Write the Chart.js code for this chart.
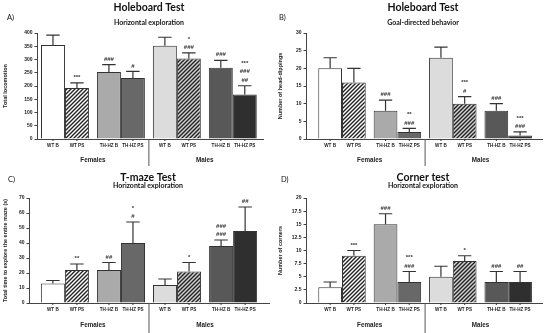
<!DOCTYPE html>
<html>
<head>
<meta charset="utf-8">
<script src="https://cdn.jsdelivr.net/npm/chart.js@4.4.1/dist/chart.umd.min.js"></script>
<style>
  body { margin: 0; background: #fff; }
  #wrap { position: relative; width: 550px; height: 333px; }
  canvas { position: absolute; }
</style>
</head>
<body>
<div id="wrap">
  <canvas id="chartA" width="275" height="166" style="left:0;top:0"></canvas>
  <canvas id="chartB" width="275" height="166" style="left:275px;top:0"></canvas>
  <canvas id="chartC" width="275" height="167" style="left:0;top:166px"></canvas>
  <canvas id="chartD" width="275" height="167" style="left:275px;top:166px"></canvas>
</div>
<script>
// bar order inside each panel
var barLabels = ['WT B', 'WT PS', 'TH-HZ B', 'TH-HZ PS', 'WT B', 'WT PS', 'TH-HZ B', 'TH-HZ PS'];
var groupLabels = ['Females', 'Males'];

// A) Holeboard - horizontal exploration
var locomotionMean = [355, 192, 253, 230, 352, 304, 269, 168];
var locomotionSem = [37, 20, 28, 25, 32, 21, 28, 33];
var locomotionSig = [[], ['***'], ['###'], ['#'], [], ['*', '###'], ['###'], ['***', '###', '##']];
var locomotionAxis = [0, 400, 50];

// B) Holeboard - goal-directed behavior
var headDipMean = [20, 16, 8, 2, 23, 10, 8, 1];
var headDipSem = [3, 4, 3, 1, 3, 2, 2, 1];
var headDipSig = [[], [], ['###'], ['**', '###'], [], ['***', '#'], ['###'], ['***', '###']];
var headDipAxis = [0, 30, 5];

// C) T-maze
var tmazeMean = [13, 22, 22, 40, 12, 21, 38, 48];
var tmazeSem = [2, 4, 5, 14, 4, 6, 4, 16];
var tmazeSig = [[], ['**'], ['##'], ['*', '#'], [], ['*'], ['###', '###'], ['##']];
var tmazeAxis = [0, 70, 10];

// D) Corner test
var cornerMean = [3, 9, 15, 4, 5, 8, 4, 4];
var cornerSem = [1, 1, 2, 2, 2, 1, 2, 2];
var cornerSig = [[], ['***'], ['###'], ['***', '###'], [], ['*'], ['###'], ['##']];
var cornerAxis = [0, 20, 2.5];

var FONT = "'Liberation Sans', Arial, sans-serif";
var TITLE_FONT = "Lato, 'Liberation Sans', sans-serif";

function hatch(ctx, bg) {
    var c = document.createElement('canvas');
    c.width = 4; c.height = 4;
    var g = c.getContext('2d');
    g.fillStyle = bg;
    g.fillRect(0, 0, 4, 4);
    g.strokeStyle = '#222';
    g.lineWidth = 1.4;
    g.beginPath();
    g.moveTo(0, 4); g.lineTo(4, 0);
    g.moveTo(-1, 1); g.lineTo(1, -1);
    g.moveTo(3, 5); g.lineTo(5, 3);
    g.stroke();
    return ctx.createPattern(c, 'repeat');
}

function makePanel(id, p) {
    var canvas = document.getElementById(id);
    var ctx = canvas.getContext('2d');
    var H = canvas.height;

    var fills = ['#ffffff', hatch(ctx, '#ffffff'), '#aaaaaa', '#686868',
                 '#dcdcdc', hatch(ctx, '#d2d2d2'), '#585858', '#2f2f2f'];

    // two datasets (B / PS), four groups along x
    var datasets = [0, 1].map(function (d) {
        var idx = [d, d + 2, d + 4, d + 6];
        return {
            data: idx.map(function (i, g) { return { x: g, y: p.mean[i] }; }),
            backgroundColor: idx.map(function (i) { return fills[i]; }),
            borderColor: '#333',
            borderWidth: 1,
            categoryPercentage: 0.857,
            barPercentage: 1
        };
    });

    var decor = {
        id: 'decor',
        afterDatasetsDraw: function (chart) {
            var c = chart.ctx, area = chart.chartArea;
            var xs = chart.scales.x, ys = chart.scales.y;
            c.save();
            c.textAlign = 'center';
            c.textBaseline = 'middle';
            for (var d = 0; d < 2; d++) {
                chart.getDatasetMeta(d).data.forEach(function (bar, g) {
                    var i = g * 2 + d;
                    var top = ys.getPixelForValue(p.mean[i] + p.sem[i]);
                    var half = bar.width * 0.28;
                    // error bar
                    c.strokeStyle = '#333';
                    c.lineWidth = 1.2;
                    c.beginPath();
                    c.moveTo(bar.x, bar.y);
                    c.lineTo(bar.x, top);
                    c.moveTo(bar.x - half, top);
                    c.lineTo(bar.x + half, top);
                    c.stroke();
                    // significance marks, stacked upward
                    c.fillStyle = '#333';
                    c.font = 'bold 6px ' + FONT;
                    var s = p.sig[i];
                    for (var k = s.length - 1; k >= 0; k--) {
                        var yy = top - 5.5 - (s.length - 1 - k) * 8.5;
                        c.fillText(s[k], bar.x, yy);
                    }
                    // small tick + label under the bar
                    c.lineWidth = 1;
                    c.beginPath();
                    c.moveTo(bar.x, area.bottom);
                    c.lineTo(bar.x, area.bottom + 2);
                    c.stroke();
                    c.fillStyle = '#222';
                    c.font = 'bold 4.6px ' + FONT;
                    c.fillText(barLabels[i], bar.x, area.bottom + 7);
                });
            }
            // females / males separator and labels
            var sep = xs.getPixelForValue(1.5);
            c.strokeStyle = '#555';
            c.lineWidth = 1;
            c.beginPath();
            c.moveTo(sep, area.bottom);
            c.lineTo(sep, H);
            c.stroke();
            c.fillStyle = '#222';
            c.font = 'bold 6.3px ' + FONT;
            c.fillText(groupLabels[0], xs.getPixelForValue(0.5), area.bottom + p.groupDy);
            c.fillText(groupLabels[1], xs.getPixelForValue(2.5), area.bottom + p.groupDy);
            // titles
            var cx = (area.left + area.right) / 2 - 1;
            c.fillStyle = '#111';
            c.font = 'bold 10.5px ' + TITLE_FONT;
            c.fillText(p.title, cx, p.titleY);
            c.font = 'bold 7px ' + TITLE_FONT;
            c.fillText(p.subtitle, cx, p.subtitleY);
            c.textAlign = 'left';
            c.font = '7.5px ' + TITLE_FONT;
            c.fillText(p.letter, p.letterX, p.letterY);
            c.restore();
        }
    };

    return new Chart(ctx, {
        type: 'bar',
        data: { datasets: datasets },
        plugins: [decor],
        options: {
            responsive: false,
            animation: false,
            layout: { padding: { left: 0, top: p.area[1], right: canvas.width - p.area[2], bottom: 0 } },
            scales: {
                x: {
                    type: 'linear',
                    offset: false,
                    min: p.xRange[0],
                    max: p.xRange[1],
                    afterBuildTicks: function (s) {
                        s.ticks = [0, 1, 2, 3].map(function (v) { return { value: v }; });
                    },
                    afterFit: function (s) { s.height = H - p.area[3]; },
                    grid: { display: false },
                    ticks: { display: false },
                    border: { display: true, color: '#444', width: 1 }
                },
                y: {
                    min: p.axis[0],
                    max: p.axis[1],
                    afterFit: function (s) { s.width = p.area[0]; },
                    ticks: {
                        stepSize: p.axis[2],
                        color: '#222',
                        padding: 2,
                        font: { family: FONT, size: 5, weight: 'bold' }
                    },
                    grid: { drawOnChartArea: false, drawTicks: true, tickLength: 2.5, color: '#444' },
                    border: { display: true, color: '#444', width: 1 },
                    title: {
                        display: true,
                        text: p.yTitle,
                        color: '#222',
                        padding: { top: 2, bottom: 2 },
                        font: { family: FONT, size: 5.5, weight: 'bold' }
                    }
                }
            },
            plugins: {
                legend: { display: false },
                tooltip: { enabled: false }
            }
        }
    });
}

makePanel('chartA', {
    mean: locomotionMean, sem: locomotionSem, sig: locomotionSig, axis: locomotionAxis,
    yTitle: 'Total locomotion', title: 'Holeboard Test', subtitle: 'Horizontal exploration', letter: 'A)',
    area: [37, 33, 263, 139], xRange: [-0.5, 3.54],
    titleY: 8, subtitleY: 23, letterX: 7, letterY: 18, groupDy: 21.5
});
makePanel('chartB', {
    mean: headDipMean, sem: headDipSem, sig: headDipSig, axis: headDipAxis,
    yTitle: 'Number of head-dippings', title: 'Holeboard Test', subtitle: 'Goal-directed behavior', letter: 'B)',
    area: [31, 33, 267, 139], xRange: [-0.65, 3.61],
    titleY: 8, subtitleY: 23, letterX: 4, letterY: 18, groupDy: 21.5
});
makePanel('chartC', {
    mean: tmazeMean, sem: tmazeSem, sig: tmazeSig, axis: tmazeAxis,
    yTitle: 'Total time to explore the entire maze (s)', title: 'T-maze Test', subtitle: 'Horizontal exploration', letter: 'C)',
    area: [29, 32, 269, 137], xRange: [-0.64, 3.64],
    titleY: 12, subtitleY: 20, letterX: 8, letterY: 14, groupDy: 22
});
makePanel('chartD', {
    mean: cornerMean, sem: cornerSem, sig: cornerSig, axis: cornerAxis,
    yTitle: 'Number of corners', title: 'Corner test', subtitle: 'Horizontal exploration', letter: 'D)',
    area: [31, 32, 267, 137], xRange: [-0.65, 3.61],
    titleY: 12, subtitleY: 20, letterX: 6, letterY: 14, groupDy: 22
});
</script>
</body>
</html>
